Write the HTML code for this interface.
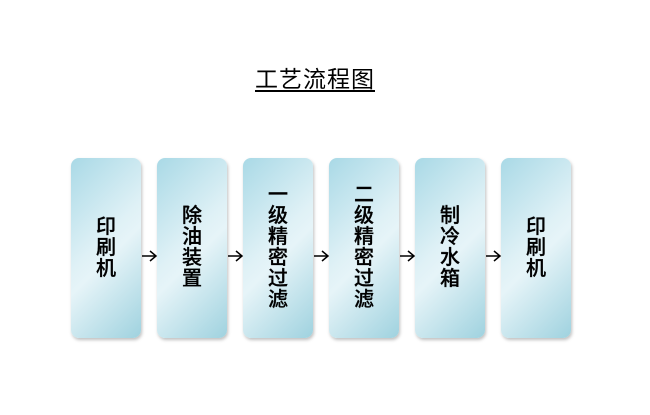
<!DOCTYPE html>
<html><head><meta charset="utf-8"><style>
body{margin:0;width:650px;height:415px;background:#fff;position:relative;font-family:"Liberation Sans","Noto Sans CJK SC",sans-serif;overflow:hidden}
.t{position:absolute;left:255px;top:66px;font-size:23px;line-height:26px;text-decoration:underline;text-underline-offset:3px;color:#000;letter-spacing:1px}
.b{position:absolute;top:158px;width:70px;height:180px;border-radius:8px;background:linear-gradient(135deg,#a9d9e6 0%,#dff1f6 45%,#e6f4f8 55%,#9fd2df 100%);box-shadow:1px 2px 3px rgba(0,0,0,0.25);display:flex;align-items:center;justify-content:center}
.b span{width:20px;font-size:20px;line-height:21px;text-align:center;color:#000;word-break:break-all;font-weight:500;-webkit-text-stroke:0.3px #000}
</style></head><body>
<div class="t">工艺流程图</div>
<div class="b" style="left:71px"><span>印刷机</span></div>
<div class="b" style="left:157px"><span>除油装置</span></div>
<div class="b" style="left:243px"><span>一级精密过滤</span></div>
<div class="b" style="left:329px"><span>二级精密过滤</span></div>
<div class="b" style="left:415px"><span>制冷水箱</span></div>
<div class="b" style="left:501px"><span>印刷机</span></div>
<svg width="650" height="415" style="position:absolute;left:0;top:0">
<g stroke="#000" stroke-width="1.5" fill="none">
<path d="M142 256H156M150 251L156 256L150 261"/>
<path d="M228 256H242M236 251L242 256L236 261"/>
<path d="M314 256H328M322 251L328 256L322 261"/>
<path d="M400 256H414M408 251L414 256L408 261"/>
<path d="M486 256H500M494 251L500 256L494 261"/>
</g></svg>
</body></html>
